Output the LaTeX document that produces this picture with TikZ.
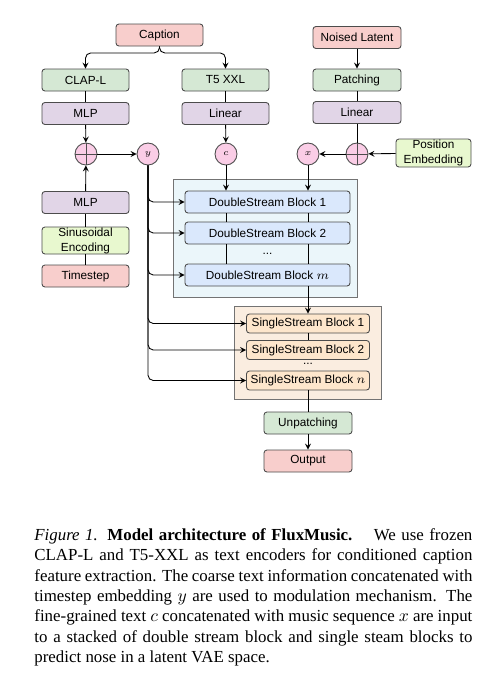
\documentclass[tikz,border=0pt]{standalone}
\usepackage{amsmath}
\usepackage{fontspec}
\setmainfont{Liberation Serif}
\setsansfont{Liberation Sans}
\definecolor{redfill}{RGB}{248, 206, 204}
\definecolor{greenfill}{RGB}{213, 232, 212}
\definecolor{purplefill}{RGB}{225, 213, 231}
\definecolor{limefill}{RGB}{232, 248, 207}
\definecolor{bluefill}{RGB}{218, 232, 252}
\definecolor{orangefill}{RGB}{253, 230, 204}
\definecolor{dsback}{RGB}{235, 246, 250}
\definecolor{ssback}{RGB}{250, 237, 224}
\definecolor{pinkfill}{RGB}{250, 205, 230}
\usepackage{tikz}
\usetikzlibrary{arrows, backgrounds}

\begin{document}
\begin{tikzpicture}[-, >=stealth, line width=0.5pt, inner sep=0pt,
  box/.style={draw=black!70, rounded corners=1.7pt, minimum width=1.74cm, minimum height=0.44cm,
    align=center, font=\sffamily\fontsize{6.7}{8.5}\selectfont},
  redbox/.style={box, fill=redfill},
  greenbox/.style={box, fill=greenfill},
  purplebox/.style={box, fill=purplefill},
  limebox/.style={box, fill=limefill},
  bluebox/.style={box, fill=bluefill, minimum width=3.30cm},
  orangebox/.style={box, fill=orangefill, minimum width=2.46cm, minimum height=0.38cm},
  token/.style={circle, draw=black!70, fill=pinkfill, minimum size=0.44cm, font=\fontsize{5}{6}\selectfont},
  plus/.style={circle, draw=black!70, fill=pinkfill, minimum size=0.44cm,
    path picture={\draw[black!70] (path picture bounding box.north) -- (path picture bounding box.south)
      (path picture bounding box.west) -- (path picture bounding box.east);}},
  dots/.style={font=\sffamily\fontsize{6.7}{8.5}\selectfont}]

\useasboundingbox[fill=white] (0,0) rectangle (10,-13.62);

  % text side
  \node[redbox]  (caption)  at (3.19,-0.70) {Caption};
  \node[greenbox]  (clap)  at (1.71,-1.60) {CLAP-L};
  \node[purplebox] (mlp_1) [below of=clap, node distance=0.67cm] {MLP};
  \node[greenbox]  (t5)    at (4.51,-1.60) {T5 XXL};
  \node[purplebox] (linear_1) [below of=t5, node distance=0.67cm] {Linear};
  \node[plus]  (add_1) at (1.72,-3.08) {};
  \node[token] (y) at (2.96,-3.08) {$y$};
  \node[token] (c) at (4.52,-3.08) {$c$};

  % timestep
  \node[purplebox] (mlp_2) at (1.71,-4.05) {MLP};
  \node[limebox, minimum height=0.54cm] (sin) at (1.71,-4.81) {Sinusoidal\\Encoding};
  \node[redbox] (time) at (1.71,-5.52) {Timestep};

  % latent side
  \node[redbox, minimum width=1.76cm]    (noised)   at (7.14,-0.75) {Noised Latent};
  \node[greenbox, minimum width=1.76cm]  (patch)    at (7.14,-1.60) {Patching};
  \node[purplebox, minimum width=1.76cm] (linear_2) at (7.14,-2.25) {Linear};
  \node[plus]  (add_2) at (7.14,-3.08) {};
  \node[token] (x) at (6.16,-3.08) {$x$};
  \node[limebox, minimum width=1.50cm, minimum height=0.56cm] (pos) at (8.67,-3.06) {Position\\Embedding};

  % double stream
  \node[draw=black!55, fill=dsback, minimum width=3.68cm, minimum height=2.36cm] (ds) at (5.30,-4.76) {};
  \node[bluebox] (ds_1) at (5.35,-4.04) {DoubleStream Block 1};
  \node[bluebox] (ds_2) at (5.35,-4.66) {DoubleStream Block 2};
  \node[dots]    (ds_dots) at (5.35,-5.08) {...};
  \node[bluebox] (ds_m) at (5.35,-5.50) {DoubleStream Block $m$};

  % single stream
  \node[draw=black!55, fill=ssback, minimum width=2.94cm, minimum height=1.86cm] (ss) at (6.15,-7.05) {};
  \node[orangebox] (ss_1) at (6.16,-6.47) {SingleStream Block 1};
  \node[orangebox] (ss_2) at (6.16,-7.00) {SingleStream Block 2};
  \node[dots]      (ss_dots) at (6.16,-7.28) {...};
  \node[orangebox] (ss_n) at (6.16,-7.61) {SingleStream Block $n$};

  \node[greenbox, minimum width=1.76cm] (unpatch) at (6.16,-8.46) {Unpatching};
  \node[redbox, minimum width=1.76cm]   (output)  at (6.16,-9.22) {Output};

  \draw[->, rounded corners=3pt] (caption.south) -- ++(0,-0.13) -| (clap.north);
  \draw[->, rounded corners=3pt] (caption.south) -- ++(0,-0.13) -| (t5.north);
  \path (clap) edge (mlp_1)
        (mlp_1) edge [->] (add_1)
        (add_1) edge [->] (y)
        (mlp_2) edge [->] (add_1)
        (sin) edge (mlp_2)
        (time) edge (sin)
        (t5) edge (linear_1)
        (linear_1) edge [->] (c)
        (noised) edge [->] (patch)
        (patch) edge (linear_2)
        (linear_2) edge (add_2)
        (pos) edge [->] (add_2)
        (add_2) edge [->] (x)
        ;
  \draw[->] (c) -- (c |- ds_1.north);
  \draw[->] (x) -- (x |- ds_1.north);
  \foreach \col in {c, x} {
    \draw (ds_1.south -| \col) -- (ds_2.north -| \col);
    \draw (ds_2.south -| \col) -- (ds_m.north -| \col);
  }
  \draw[->] (ds_m.south -| x) -- (ss_1.north -| x);
  \draw (ss_1) -- (ss_2);
  \draw (ss_n) -- (unpatch);
  \draw[->] (unpatch) -- (output);
  \foreach \blk in {ds_1, ds_2, ds_m, ss_1, ss_2, ss_n}
    \draw[->, rounded corners=3pt] (y.south) |- (\blk.west);

  % caption
  \node[anchor=north west, text width=8.76cm, align=justify, font=\fontsize{9.6}{11.6}\selectfont] (figcap) at (0.68,-10.56)
    {\textit{Figure 1.} \textbf{Model architecture of FluxMusic.}\hspace{0.7em} We use frozen\linebreak
     CLAP-L and T5-XXL as text encoders for conditioned caption\linebreak
     feature extraction. The coarse text information concatenated with\linebreak
     timestep embedding $y$ are used to modulation mechanism. The\linebreak
     fine-grained text $c$ concatenated with music sequence $x$ are input\linebreak
     to a stacked of double stream block and single steam blocks to\linebreak
     predict nose in a latent VAE space.};

\end{tikzpicture}
\end{document}
